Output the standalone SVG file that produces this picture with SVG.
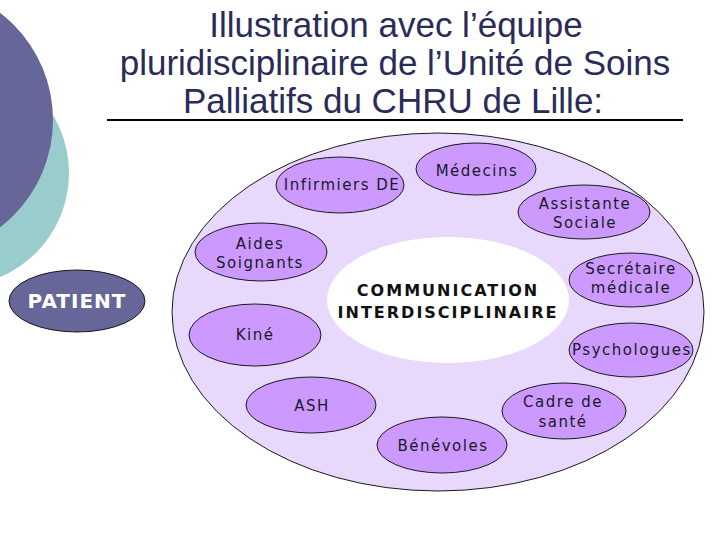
<svg xmlns="http://www.w3.org/2000/svg" width="720" height="540" viewBox="0 0 720 540">
<style>
.title{font-family:"Liberation Sans",Arial,sans-serif;font-size:35px;fill:#2b2b58;text-anchor:middle}
.n{fill:#cc99ff;stroke:#1a1a1a;stroke-width:1}
.t{font-family:"DejaVu Sans",Verdana,sans-serif;font-size:15px;fill:#1a1a2a;text-anchor:middle;letter-spacing:1.5px}
.b{font-family:"DejaVu Sans",Verdana,sans-serif;font-size:16px;font-weight:bold;fill:#111;text-anchor:middle;letter-spacing:2px}
</style>
<rect width="720" height="540" fill="#ffffff"/>
<g id="decor">
<circle cx="-44" cy="173" r="113" fill="#99cccc"/>
<circle cx="-82" cy="120" r="135" fill="#666699"/>
</g>
<g id="title">
<text class="title" x="396" y="37">Illustration avec l’équipe</text>
<text class="title" x="395" y="75">pluridisciplinaire de l’Unité de Soins</text>
<text class="title" x="393" y="113">Palliatifs du CHRU de Lille:</text>
<line x1="107" y1="120" x2="683" y2="120" stroke="#000" stroke-width="2"/>
</g>
<g id="ring">
<ellipse cx="438" cy="312" rx="266" ry="179" fill="#e8d9fc" stroke="#1a1a1a" stroke-width="1"/>
</g>
<g id="center">
<ellipse cx="448" cy="300" rx="121" ry="63" fill="#ffffff"/>
<text class="b" x="448" y="296">COMMUNICATION</text>
<text class="b" x="448" y="318">INTERDISCIPLINAIRE</text>
</g>
<g id="patient">
<ellipse cx="77" cy="301" rx="68" ry="31" fill="#666699" stroke="#1a1a1a" stroke-width="1"/>
<text x="77" y="308" font-family="DejaVu Sans,Verdana,sans-serif" font-size="20" font-weight="bold" letter-spacing="1" fill="#ffffff" text-anchor="middle">PATIENT</text>
</g>
<g id="infirmiers">
<ellipse class="n" cx="340" cy="185" rx="64" ry="28"/>
<text class="t" x="342" y="190">Infirmiers DE</text>
</g>
<g id="medecins">
<ellipse class="n" cx="476" cy="169" rx="60" ry="26"/>
<text class="t" x="477" y="176">Médecins</text>
</g>
<g id="assistante">
<ellipse class="n" cx="584" cy="212" rx="66" ry="27"/>
<text class="t" x="585" y="209">Assistante</text>
<text class="t" x="585" y="228">Sociale</text>
</g>
<g id="secretaire">
<ellipse class="n" cx="631" cy="280" rx="62" ry="27"/>
<text class="t" x="631" y="274">Secrétaire</text>
<text class="t" x="631" y="293">médicale</text>
</g>
<g id="psychologues">
<ellipse class="n" cx="631" cy="350" rx="62" ry="27"/>
<text class="t" x="632" y="355">Psychologues</text>
</g>
<g id="cadre">
<ellipse class="n" cx="564" cy="411" rx="62" ry="28"/>
<text class="t" x="563" y="407">Cadre de</text>
<text class="t" x="563" y="427">santé</text>
</g>
<g id="benevoles">
<ellipse class="n" cx="442" cy="445" rx="65" ry="28"/>
<text class="t" x="443" y="451">Bénévoles</text>
</g>
<g id="ash">
<ellipse class="n" cx="311" cy="405" rx="65" ry="28"/>
<text class="t" x="312" y="411">ASH</text>
</g>
<g id="kine">
<ellipse class="n" cx="255" cy="335" rx="66" ry="31"/>
<text class="t" x="255" y="340">Kiné</text>
</g>
<g id="aides">
<ellipse class="n" cx="261" cy="252" rx="66" ry="29"/>
<text class="t" x="260" y="249">Aides</text>
<text class="t" x="260" y="268">Soignants</text>
</g>
<g id="connectors"></g>
</svg>
